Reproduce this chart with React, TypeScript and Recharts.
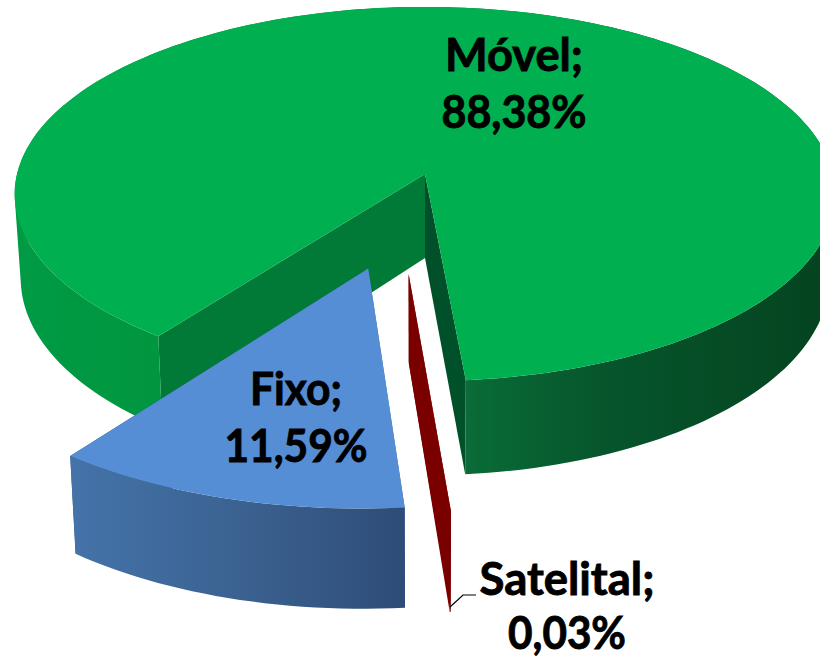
import React from "react";
import { PieChart, Pie } from "recharts";

const categories = ["Móvel", "Satelital", "Fixo"];
const shares = [88.38, 0.03, 11.59];
const valueLabels = ["88,38%", "0,03%", "11,59%"];

const chartData = categories.map((name, i) => ({ name, value: shares[i], text: valueLabels[i] }));

// Perspective of the tilted disc
const APEX_X = 425;
const APEX_Y = 174;
const TILT_Y = 185;
const PERSPECTIVE = 0.107;
const DEPTH = 84;
const FLOOR_SCALE = 0.985;

type SliceStyle = {
  du: number; dv: number; scale: number; top: string; wall: string; startWall: string; endWall: string;
};
const sliceStyles: Record<string, SliceStyle> = {
  "Móvel": { du: 0, dv: 0, scale: 1, top: "#00B050", wall: "url(#greenWall)", startWall: "#007A36", endWall: "#00502A" },
  "Satelital": { du: -0.038, dv: 0.511, scale: 1.02, top: "#800000", wall: "#7A0000", startWall: "#7A0000", endWall: "#7A0000" },
  "Fixo": { du: -0.132, dv: 0.485, scale: 1.03, top: "#558ED5", wall: "url(#blueWall)", startWall: "#3F6CA5", endWall: "#2F4F7A" },
};

const labelStyles: Record<string, { x: number; y1: number; y2: number; w1: number; w2: number }> = {
  "Móvel": { x: 514, y1: 71, y2: 128, w1: 138, w2: 145 },
  "Fixo": { x: 296, y1: 405, y2: 462, w1: 92, w2: 143 },
  "Satelital": { x: 567, y1: 595, y2: 649, w1: 175, w2: 118 },
};

function project(u: number, v: number, R: number, floor = false) {
  const w = 1 - PERSPECTIVE * v;
  const x = (R * u) / w;
  const y = (TILT_Y * v) / w;
  if (!floor) return [APEX_X + x, APEX_Y + y];
  return [APEX_X + x * FLOOR_SCALE, APEX_Y + y + DEPTH / w];
}

function pts(list: number[][]) {
  return "M" + list.map((p) => `${p[0].toFixed(1)},${p[1].toFixed(1)}`).join("L") + "Z";
}

// One extruded quad per rim step, all wound the same way, so the outline of the
// side wall follows the true silhouette of the extrusion.
function wallPath(top: number[][], floor: number[][]) {
  let d = "";
  for (let i = 0; i < top.length - 1; i++) {
    const quad = [top[i], top[i + 1], floor[i + 1], floor[i]];
    let area = 0;
    quad.forEach((p, k) => {
      const q = quad[(k + 1) % 4];
      area += p[0] * q[1] - q[0] * p[1];
    });
    d += pts(area >= 0 ? quad : [...quad].reverse());
  }
  return d;
}

function Slice3D(props: any) {
  const { startAngle, endAngle, outerRadius, payload } = props;
  const name = payload?.name ?? props.name;
  const st = sliceStyles[name];
  const R = outerRadius;
  const rim = (deg: number, floor: boolean) => {
    const a = (deg * Math.PI) / 180;
    return project(st.du + st.scale * Math.cos(a), st.dv - st.scale * Math.sin(a), R, floor);
  };
  const n = Math.max(2, Math.ceil(Math.abs(startAngle - endAngle) / 1.5));
  const angles: number[] = [];
  for (let i = 0; i <= n; i++) angles.push(startAngle + ((endAngle - startAngle) * i) / n);
  const topRim = angles.map((d) => rim(d, false));
  const floorRim = angles.map((d) => rim(d, true));
  const apex = project(st.du, st.dv, R, false);
  const apexFloor = project(st.du, st.dv, R, true);
  return (
    <g>
      <path d={pts([apex, apexFloor, floorRim[0], topRim[0]])} fill={st.startWall} />
      <path d={pts([apex, apexFloor, floorRim[n], topRim[n]])} fill={st.endWall} />
      <path d={wallPath(topRim, floorRim)} fill={st.wall} />
      <path d={pts([apex, ...topRim])} fill={st.top} />
    </g>
  );
}

function SliceLabel(props: any) {
  const name = props.payload?.name ?? props.name;
  const text = props.payload?.text ?? props.text;
  const st = labelStyles[name];
  const common = {
    x: st.x, textAnchor: "middle" as const, fontFamily: "Lato", fontWeight: 700, fontSize: 46,
    fill: "#000", stroke: "#000", strokeWidth: 0.9, lengthAdjust: "spacingAndGlyphs" as const,
  };
  return (
    <g>
      {name === "Satelital" && <path d="M450,607 L463,595 L476,595" fill="none" stroke="#000" strokeWidth={1.2} />}
      <text {...common} y={st.y1} textLength={st.w1}>{`${name};`}</text>
      <text {...common} y={st.y2} textLength={st.w2}>{text}</text>
    </g>
  );
}

export default function App() {
  return (
    <div style={{ position: "absolute", left: 0, top: 0, width: 820, height: 658, background: "#fff", overflow: "hidden" }}>
      <PieChart width={820} height={658} margin={{ top: 0, right: 0, bottom: 0, left: 0 }}>
        <defs>
          <linearGradient id="greenWall" gradientUnits="userSpaceOnUse" x1="15" y1="0" x2="835" y2="0">
            <stop offset="0" stopColor="#009B45" />
            <stop offset="0.18" stopColor="#00963F" />
            <stop offset="0.55" stopColor="#0A6C37" />
            <stop offset="0.72" stopColor="#06552C" />
            <stop offset="1" stopColor="#04431F" />
          </linearGradient>
          <linearGradient id="blueWall" gradientUnits="userSpaceOnUse" x1="72" y1="0" x2="405" y2="0">
            <stop offset="0" stopColor="#4473A9" />
            <stop offset="0.5" stopColor="#3B6291" />
            <stop offset="1" stopColor="#2E4C78" />
          </linearGradient>
        </defs>
        <Pie
          data={chartData}
          dataKey="value"
          nameKey="name"
          cx={425}
          cy={174}
          innerRadius={0}
          outerRadius={408}
          startAngle={233.3}
          endAngle={-126.7}
          stroke="none"
          isAnimationActive={false}
          shape={Slice3D}
          label={SliceLabel}
          labelLine={false}
        />
      </PieChart>
    </div>
  );
}
